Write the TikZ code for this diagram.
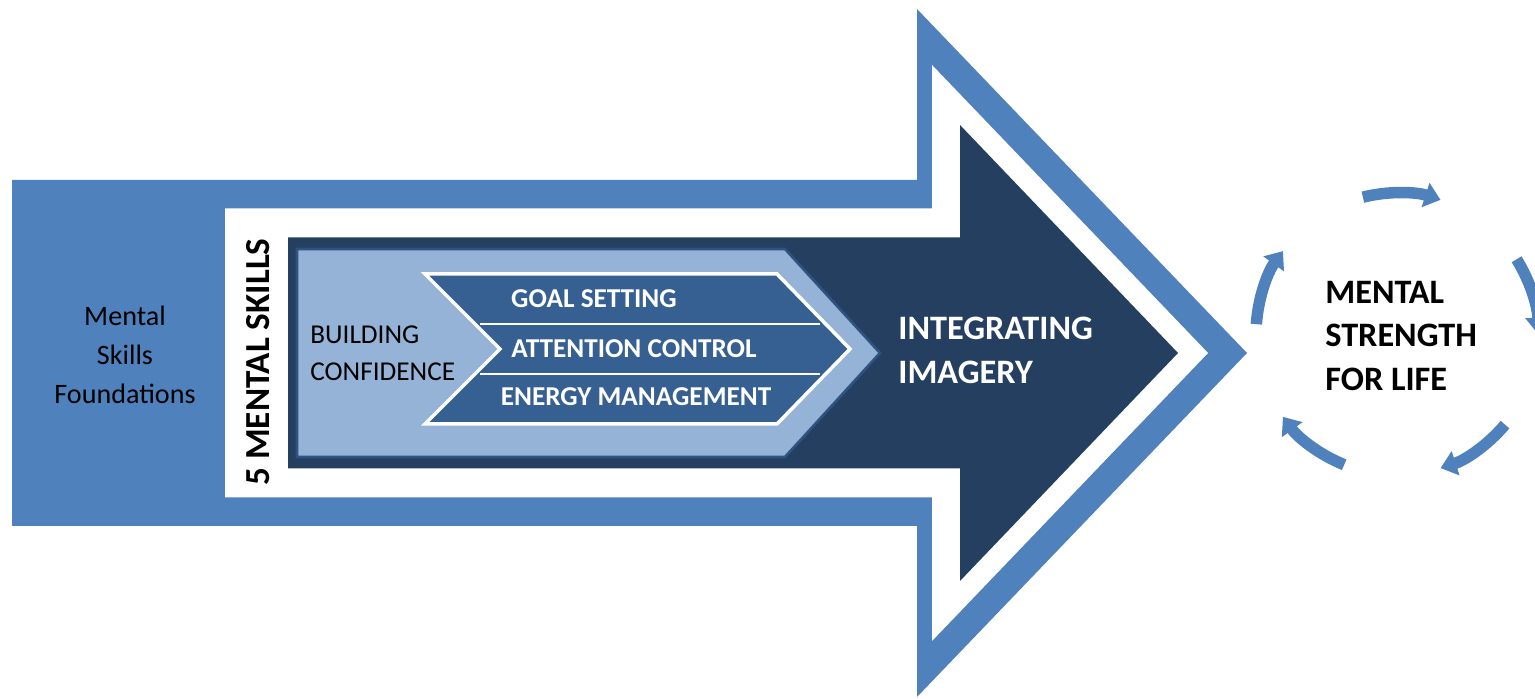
\documentclass[tikz,border=0pt]{standalone}
\usepackage{fontspec}
\setmainfont{Carlito}
\usepackage{tikz}
\usepackage{xcolor}
\usetikzlibrary{arrows.meta, positioning, calc}

\definecolor{midblue}{HTML}{4F81BD}
\definecolor{navy}{HTML}{243F60}
\definecolor{paleblue}{HTML}{95B3D7}
\definecolor{chevblue}{HTML}{366092}
\definecolor{navyedge}{HTML}{2F5280}

\begin{document}
\begin{tikzpicture}[
    x=0.02cm, y=0.02cm,
    band/.style={fill=midblue, draw=none},
    gap/.style={fill=white, draw=none},
    core/.style={fill=navy, draw=none},
    lightpanel/.style={fill=paleblue, draw=navyedge, line width=1.5pt},
    skillband/.style={fill=chevblue, draw=white, line width=2pt},
    skill/.style={font=\fontsize{15.5}{18}\selectfont\bfseries, text=white, inner sep=0pt},
    foundtext/.style={font=\fontsize{16}{22}\selectfont, align=center, inner sep=0pt},
    bigtext/.style={font=\fontsize{19.5}{25}\selectfont\bfseries, align=left, inner sep=0pt, anchor=west},
    loopline/.style={midblue, line width=0.23cm, -{Triangle[length=9pt, width=14pt]}}
]
\useasboundingbox (0,0) rectangle (1535,699);

% Big arrow, three layers
\fill[band] (12,173) -- (917,173) -- (917,2) -- (1247,346) -- (917,690) -- (917,519) -- (12,519) -- cycle;
\fill[gap] (225,201.5) -- (932,201.5) -- (932,58) -- (1208,346) -- (932,634) -- (932,490.5) -- (225,490.5) -- cycle;
\fill[core] (288,230.5) -- (960,230.5) -- (960,118) -- (1178,346) -- (960,574) -- (960,461.5) -- (288,461.5) -- cycle;

% Light panel and the skill chevron
\draw[lightpanel] (297,242) -- (785,242) -- (880,346) -- (785,450) -- (297,450) -- cycle;
\draw[skillband] (425,425) -- (777,425) -- (850,350) -- (777,275) -- (425,275) -- (500,350) -- cycle;
\draw[white, line width=1.5pt] (480,375) -- (820,375);
\draw[white, line width=1.5pt] (480,325) -- (820,325);

% Texts
\node[foundtext] (found) at (125,344) {Mental\\Skills\\Foundations};
\node[rotate=90, font=\fontsize{20}{22}\selectfont\bfseries, inner sep=0pt] (fiveskills) at (258,337) {5 MENTAL SKILLS};
\node[font=\fontsize{15.5}{21}\selectfont, align=left, inner sep=0pt, anchor=west] (confid) at (310,346) {BUILDING\\CONFIDENCE};
\node[skill] (goal) at (594,400) {GOAL SETTING};
\node[skill] (attn) at (634,350) {ATTENTION CONTROL};
\node[skill] (energy) at (636,302) {ENERGY MANAGEMENT};
\node[bigtext, text=white] (imagery) at (898,349) {INTEGRATING\\IMAGERY};

% Cycle on the right
\coordinate (hub) at (1397,365);
\node[bigtext] (strength) at (1325,363) {MENTAL\\STRENGTH\\FOR LIFE};
\foreach \s in {104,32,-40,-112,-184}
    \draw[loopline] ($(hub)+(\s:141)$) arc[start angle=\s, end angle=\s-32, radius=141];

\end{tikzpicture}
\end{document}
